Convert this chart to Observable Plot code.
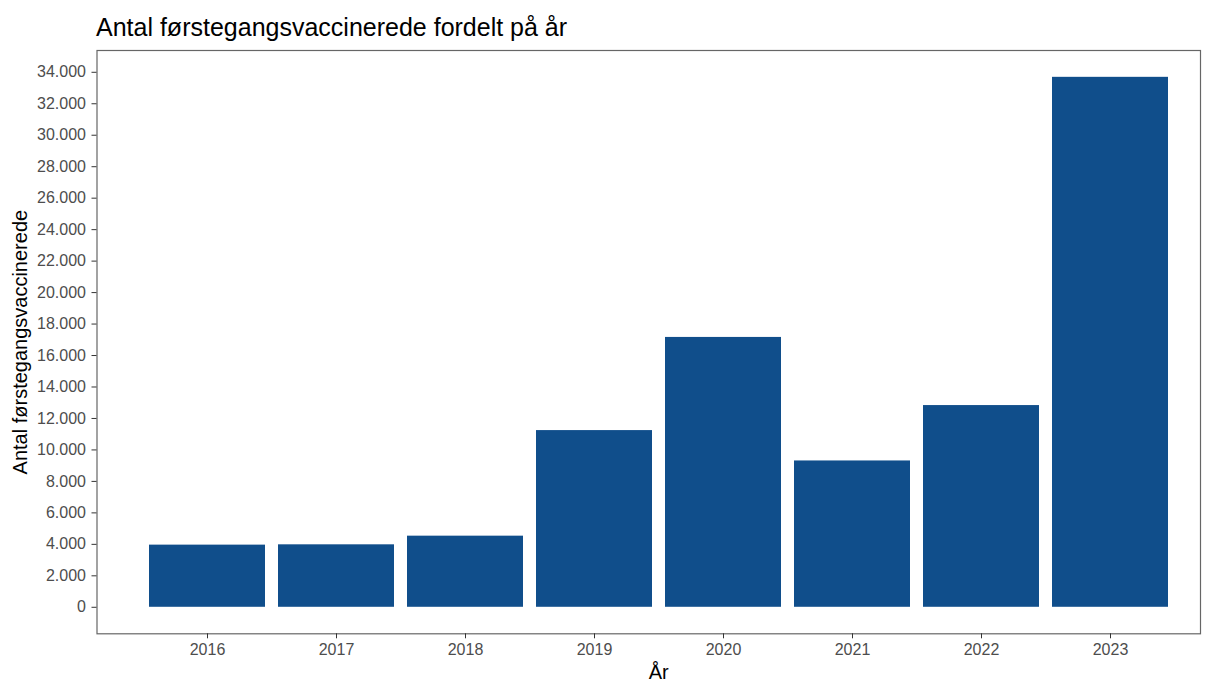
<!DOCTYPE html>
<html><head><meta charset="utf-8">
<script src="https://cdn.jsdelivr.net/npm/d3@7"></script>
<script src="https://cdn.jsdelivr.net/npm/@observablehq/plot@0.6"></script>
<style>
body{margin:0;background:#fff;font-family:"Liberation Sans",Arial,sans-serif}
#head{position:relative;height:45px;width:1208px;overflow:hidden}
#s{position:absolute;left:96px;top:15px;font-size:25px;line-height:1;color:#000;white-space:nowrap}
</style></head>
<body>
<div id="head"><div id="s">Antal førstegangsvaccinerede fordelt på år</div></div>
<div id="chart"></div>
<script>
const years = ["2016","2017","2018","2019","2020","2021","2022","2023"];
const values = [3950, 3970, 4520, 11230, 17150, 9300, 12820, 33680];
const yTicks = [0,2000,4000,6000,8000,10000,12000,14000,16000,18000,20000,22000,24000,26000,28000,30000,32000,34000];
const yLabel = "Antal førstegangsvaccinerede";
const xLabel = "År";

const data = years.map((y, i) => ({year: y, value: values[i]}));
const loc = d3.formatLocale({decimal: ",", thousands: ".", grouping: [3], currency: ["", ""]});
const fmt = loc.format(",d");

const W = 1208, H = 636;
const chart = Plot.plot({
  width: W, height: H,
  marginLeft: 96.5, marginRight: 8, marginTop: 5, marginBottom: 47.7,
  style: {fontFamily: '"Liberation Sans", Arial, sans-serif', background: "#fff", overflow: "visible"},
  x: {domain: years, range: [134.5, 1183.2], padding: 0.1},
  y: {domain: [-1685, 35385]},
  marks: [
    Plot.barY(data, {x: "year", y: "value", fill: "#104E8B"}),
    Plot.frame({stroke: "#666", strokeWidth: 1.2}),
    Plot.axisY({ticks: yTicks, tickFormat: fmt, tickSize: 5, tickPadding: 6, fontSize: 16, color: "#4d4d4d", stroke: "#333",
      label: yLabel, labelAnchor: "center", labelArrow: "none", labelOffset: 84}),
    Plot.axisX({tickSize: 5, tickPadding: 5, fontSize: 16, color: "#4d4d4d", stroke: "#333",
      label: xLabel, labelAnchor: "center", labelArrow: "none", labelOffset: 45})
  ]
});
document.getElementById("chart").appendChild(chart);
chart.querySelectorAll("g[aria-label='y-axis label'] text, g[aria-label='x-axis label'] text").forEach(t => {
  t.setAttribute("font-size", 20); t.setAttribute("fill", "#000");
});
const xl = chart.querySelector("g[aria-label='x-axis label'] text");
if (xl) xl.setAttribute("dx", 10);
</script>
</body></html>
